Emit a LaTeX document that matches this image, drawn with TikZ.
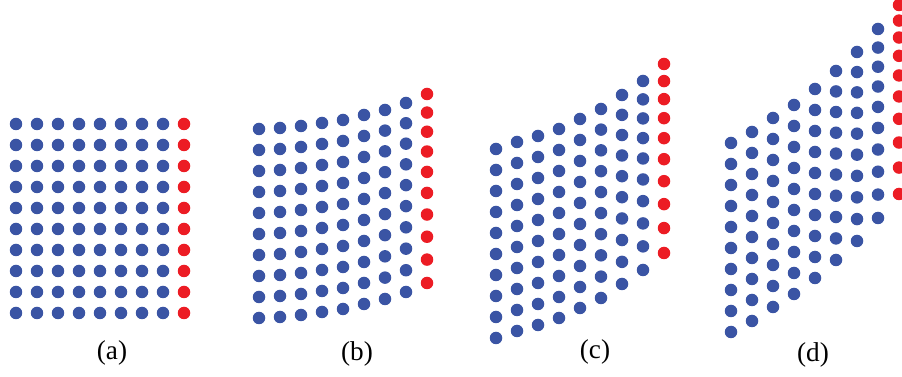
\documentclass[tikz,border=0pt]{standalone}
\usepackage{fontspec}
\setmainfont{Liberation Serif}
\definecolor{dotblue}{RGB}{58,84,164}
\definecolor{dotred}{RGB}{236,28,36}
\begin{document}
\begin{tikzpicture}[
    x=0.02cm, y=-0.02cm,
    dot/.style={circle, inner sep=0pt, minimum size=0.25cm},
    bdot/.style={dot, fill=dotblue},
    rdot/.style={dot, fill=dotred},
    lab/.style={font=\fontsize{15.5}{18}\selectfont}
]
    \clip (0,0) rectangle (902,377);

    % (a) regelmaessiges Gitter
    \foreach \i/\t/\k/\c in {0/124/0/bdot,1/124/0/bdot,2/124/0/bdot,3/124/0/bdot,4/124/0/bdot,
                             5/124/0/bdot,6/124/0/bdot,7/124/0/bdot,8/124/0/rdot} {
        \foreach \j in {0,...,9} {
            \pgfmathsetmacro\yy{\t+189*((1-\k)*\j/9+\k*(\j/9)^2)}
            \node[\c] (a-\i-\j) at (16+21*\i, \yy) {};
        }
    }
    \node[lab] (la) at (112,353) {(a)};

    % (b) leicht verzogen
    \foreach \i/\t/\k/\c in {0/129/0/bdot,1/128/0/bdot,2/126/0/bdot,3/123/0/bdot,4/120/0/bdot,
                             5/115/0/bdot,6/110/0.02/bdot,7/103/0.04/bdot,8/94/0.13/rdot} {
        \foreach \j in {0,...,9} {
            \pgfmathsetmacro\yy{\t+189*((1-\k)*\j/9+\k*(\j/9)^2)}
            \node[\c] (b-\i-\j) at (259+21*\i, \yy) {};
        }
    }
    \node[lab] (lb) at (357,354) {(b)};

    % (c) staerker verzogen
    \foreach \i/\t/\k/\c in {0/149/0/bdot,1/142/0/bdot,2/136/0/bdot,3/129/0/bdot,4/119/0/bdot,
                             5/109/0.02/bdot,6/95/0.06/bdot,7/81/0.14/bdot,8/64/0.21/rdot} {
        \foreach \j in {0,...,9} {
            \pgfmathsetmacro\yy{\t+189*((1-\k)*\j/9+\k*(\j/9)^2)}
            \node[\c] (c-\i-\j) at (496+21*\i, \yy) {};
        }
    }
    \node[lab] (lc) at (595,352) {(c)};

    % (d) am staerksten verzogen
    \foreach \i/\t/\k/\c in {0/143/0/bdot,1/132/0/bdot,2/118/0/bdot,3/105/0/bdot,4/89/0/bdot,
                             5/71/0.03/bdot,6/52/0.05/bdot,7/29/0.13/bdot,8/5/0.29/rdot} {
        \foreach \j in {0,...,9} {
            \pgfmathsetmacro\yy{\t+189*((1-\k)*\j/9+\k*(\j/9)^2)}
            \node[\c] (d-\i-\j) at (731+21*\i, \yy) {};
        }
    }
    \node[lab] (ld) at (813,355) {(d)};
\end{tikzpicture}
\end{document}
